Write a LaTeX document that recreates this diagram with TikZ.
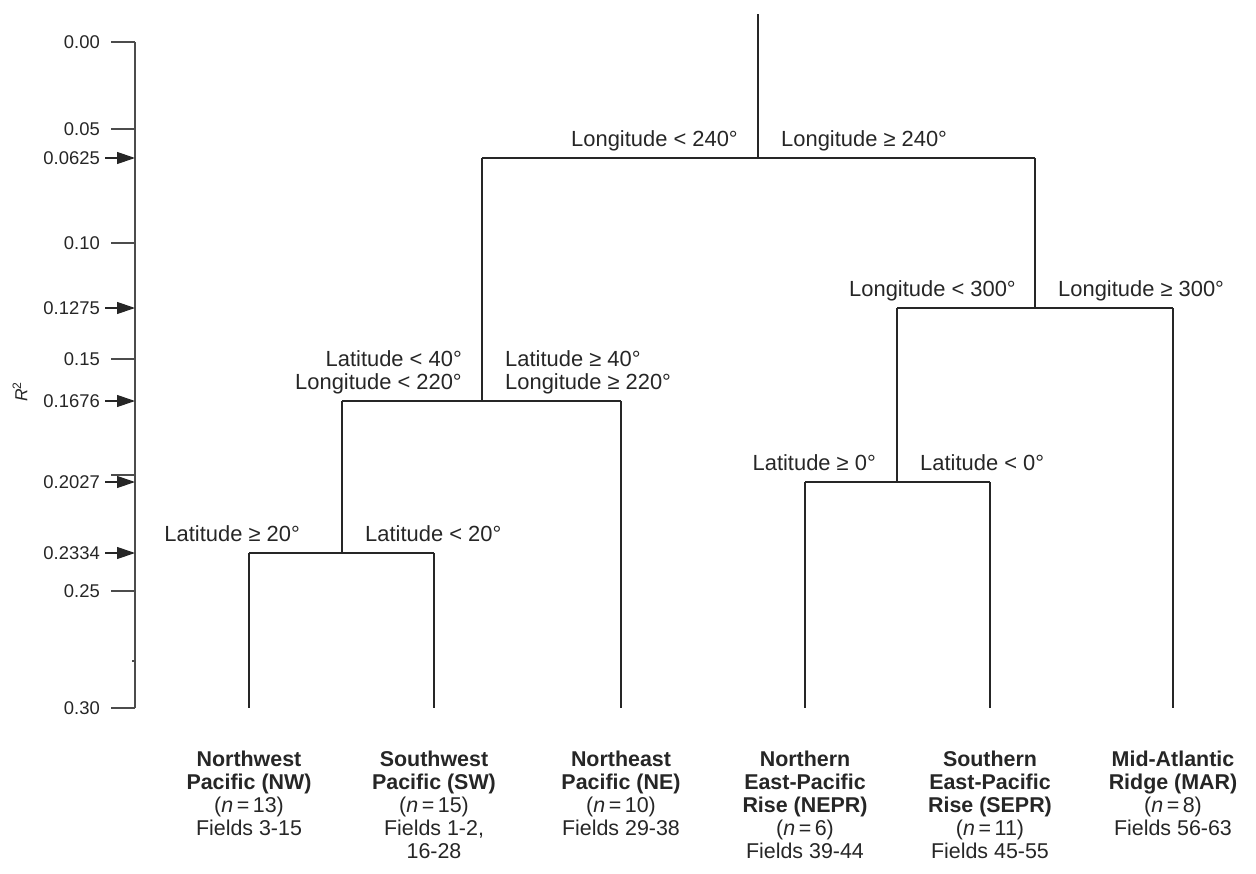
\documentclass[tikz,border=0pt]{standalone}
\usepackage{fontspec}
\setmainfont{Liberation Sans}
\usetikzlibrary{arrows.meta}
\begin{document}
\begin{tikzpicture}[x=1bp,y=-1bp,
  branch/.style={line width=1.2bp,black!85},
  axisline/.style={line width=1.4bp,black!70},
  ticklabel/.style={anchor=east,inner sep=0pt,font=\fontsize{18.5}{20}\selectfont,text=black!85},
  cutL/.style={anchor=south east,inner sep=0pt,text depth=5bp,align=right,font=\fontsize{22}{23}\selectfont,text=black!85},
  cutR/.style={anchor=south west,inner sep=0pt,text depth=5bp,align=left,font=\fontsize{22}{23}\selectfont,text=black!85},
  leaflabel/.style={anchor=north,inner sep=0pt,align=center,font=\fontsize{21.5}{23}\selectfont,text=black!85},
  markarrow/.style={line width=1.2bp,black!85,-{Triangle[length=18bp,width=12bp]}}
]
\useasboundingbox (0,0) rectangle (1256,874);

% axis
\coordinate (axtop) at (135,42);
\coordinate (axbot) at (135,708);
\draw[axisline] (axtop) -- (axbot);
\foreach \y/\lab/\nm in {42/0.00/t0, 129/0.05/t1, 243/0.10/t2, 359/0.15/t3, 591/0.25/t4, 708/0.30/t5}{
  \coordinate (\nm a) at (111,\y);
  \coordinate (\nm b) at (135,\y);
  \draw[axisline] (\nm a) -- (\nm b);
  \node[ticklabel] (\nm l) at (100,\y) {\lab};
}
\coordinate (t6a) at (111,475); \coordinate (t6b) at (135,475);
\draw[axisline] (t6a) -- (t6b);
\coordinate (t7a) at (132,661); \coordinate (t7b) at (135,661);
\draw[axisline] (t7a) -- (t7b);
\foreach \y/\lab/\nm in {158/0.0625/m1, 308/0.1275/m2, 401/0.1676/m3, 482/0.2027/m4, 553/0.2334/m5}{
  \coordinate (\nm a) at (105,\y);
  \coordinate (\nm b) at (135,\y);
  \draw[markarrow] (\nm a) -- (\nm b);
  \node[ticklabel] (\nm l) at (100,\y) {\lab};
}
\node[rotate=90,inner sep=0pt,font=\fontsize{17.5}{19}\selectfont,text=black!85] (rsq) at (20,392) {\textit{R}\textsuperscript{2}};

% tree coordinates
\coordinate (root) at (758,14);
\coordinate (A) at (758,158);
\coordinate (AL) at (482,158);
\coordinate (AR) at (1035,158);
\coordinate (B) at (482,401);
\coordinate (BL) at (342,401);
\coordinate (BR) at (621,401);
\coordinate (C) at (342,553);
\coordinate (CL) at (249,553);
\coordinate (CR) at (434,553);
\coordinate (D) at (1035,308);
\coordinate (DL) at (897,308);
\coordinate (DR) at (1173,308);
\coordinate (E) at (897,482);
\coordinate (EL) at (805,482);
\coordinate (ER) at (990,482);
\coordinate (L1) at (249,708);
\coordinate (L2) at (434,708);
\coordinate (L3) at (621,708);
\coordinate (L4) at (805,708);
\coordinate (L5) at (990,708);
\coordinate (L6) at (1173,708);

\draw[branch] (root) -- (A);
\draw[branch] (AL) -- (AR);
\draw[branch] (AL) -- (B);
\draw[branch] (BL) -- (BR);
\draw[branch] (BL) -- (C);
\draw[branch] (CL) -- (CR);
\draw[branch] (CL) -- (L1);
\draw[branch] (CR) -- (L2);
\draw[branch] (BR) -- (L3);
\draw[branch] (AR) -- (D);
\draw[branch] (DL) -- (DR);
\draw[branch] (DL) -- (E);
\draw[branch] (EL) -- (ER);
\draw[branch] (EL) -- (L4);
\draw[branch] (ER) -- (L5);
\draw[branch] (DR) -- (L6);

% split labels
\node[cutL] (a1) at (738,152) {Longitude < 240°};
\node[cutR] (a2) at (781,152) {Longitude ≥ 240°};
\node[cutL] (b1) at (462,395) {Latitude < 40°\\Longitude < 220°};
\node[cutR] (b2) at (505,395) {Latitude ≥ 40°\\Longitude ≥ 220°};
\node[cutL] (c1) at (300,547) {Latitude ≥ 20°};
\node[cutR] (c2) at (365,547) {Latitude < 20°};
\node[cutL] (d1) at (1016,302) {Longitude < 300°};
\node[cutR] (d2) at (1058,302) {Longitude ≥ 300°};
\node[cutL] (e1) at (876,476) {Latitude ≥ 0°};
\node[cutR] (e2) at (920,476) {Latitude < 0°};

% leaf labels
\node[leaflabel] (n1) at (249,751) {\textbf{Northwest}\\\textbf{Pacific (NW)}\\(\textit{n}\,=\,13)\\Fields 3-15};
\node[leaflabel] (n2) at (434,751) {\textbf{Southwest}\\\textbf{Pacific (SW)}\\(\textit{n}\,=\,15)\\Fields 1-2,\\16-28};
\node[leaflabel] (n3) at (621,751) {\textbf{Northeast}\\\textbf{Pacific (NE)}\\(\textit{n}\,=\,10)\\Fields 29-38};
\node[leaflabel] (n4) at (805,751) {\textbf{Northern}\\\textbf{East-Pacific}\\\textbf{Rise (NEPR)}\\(\textit{n}\,=\,6)\\Fields 39-44};
\node[leaflabel] (n5) at (990,751) {\textbf{Southern}\\\textbf{East-Pacific}\\\textbf{Rise (SEPR)}\\(\textit{n}\,=\,11)\\Fields 45-55};
\node[leaflabel] (n6) at (1173,751) {\textbf{Mid-Atlantic}\\\textbf{Ridge (MAR)}\\(\textit{n}\,=\,8)\\Fields 56-63};
\end{tikzpicture}
\end{document}
